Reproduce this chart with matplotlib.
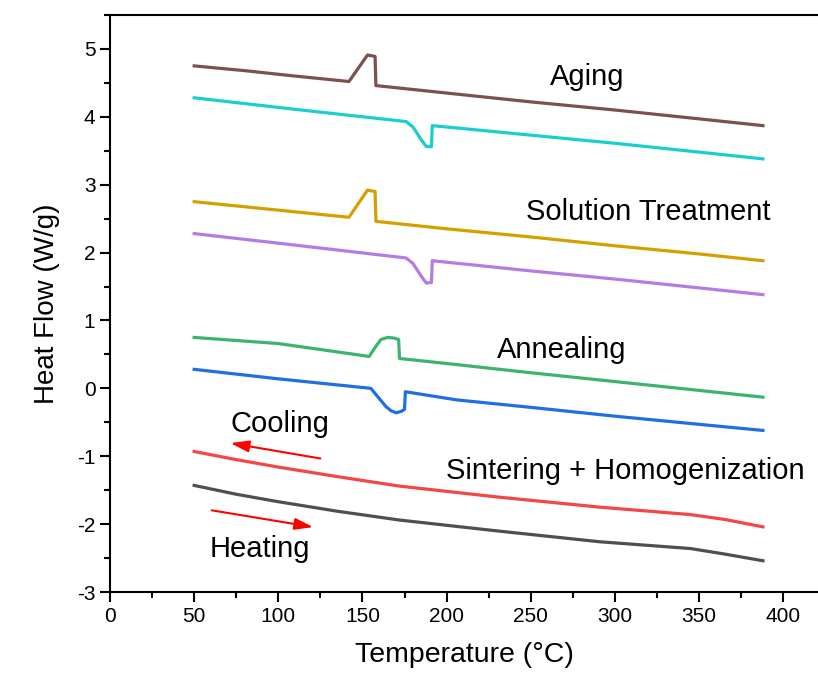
import matplotlib
matplotlib.use('Agg')
import matplotlib.pyplot as plt
from matplotlib.ticker import MultipleLocator

plt.rcParams['font.family'] = ['Liberation Sans', 'DejaVu Sans']
plt.rcParams['axes.unicode_minus'] = False

# Aging
t_aging_c = [50, 80, 110, 142, 153, 157.5, 158, 200, 250, 300, 350, 388]
hf_aging_c = [4.75, 4.68, 4.60, 4.52, 4.91, 4.89, 4.46, 4.35, 4.22, 4.10, 3.97, 3.87]
t_aging_h = [50, 110, 176, 180, 185, 188, 191, 191.5, 250, 300, 350, 388]
hf_aging_h = [4.28, 4.11, 3.93, 3.85, 3.66, 3.56, 3.56, 3.87, 3.73, 3.61, 3.48, 3.38]

# Solution treatment
t_sol_c = [50, 110, 142, 153, 157.5, 158, 200, 250, 300, 350, 388]
hf_sol_c = [2.75, 2.60, 2.52, 2.92, 2.90, 2.46, 2.35, 2.23, 2.10, 1.98, 1.88]
t_sol_h = [50, 110, 176, 180, 185, 188, 191, 191.5, 250, 300, 350, 388]
hf_sol_h = [2.28, 2.11, 1.92, 1.84, 1.65, 1.55, 1.56, 1.88, 1.73, 1.61, 1.48, 1.38]

# Annealing
t_ann_c = [50, 100, 154, 158, 161, 165, 169, 171.5, 172, 206, 250, 300, 350, 388]
hf_ann_c = [0.75, 0.66, 0.47, 0.62, 0.72, 0.75, 0.74, 0.72, 0.44, 0.35, 0.23, 0.10, -0.03, -0.13]
t_ann_h = [50, 100, 155, 160, 164, 167, 170, 173, 175, 175.5, 206, 250, 300, 350, 388]
hf_ann_h = [0.28, 0.14, 0.00, -0.15, -0.27, -0.33, -0.36, -0.34, -0.31, -0.05, -0.17, -0.28, -0.41, -0.53, -0.62]

# Sintering + Homogenization
t_sin = [50, 75, 100, 135, 172, 230, 291, 345, 365, 388]
hf_sin_c = [-0.93, -1.05, -1.16, -1.30, -1.44, -1.60, -1.75, -1.86, -1.93, -2.04]
hf_sin_h = [-1.43, -1.56, -1.67, -1.81, -1.94, -2.10, -2.26, -2.36, -2.44, -2.54]

fig = plt.figure(figsize=(8.18, 6.84), dpi=100)
ax = fig.add_axes([0.1345, 0.1345, 0.8655, 0.8436])

lw = 2.3
ax.plot(t_aging_c, hf_aging_c, color='#7d5050', lw=lw)
ax.plot(t_aging_h, hf_aging_h, color='#1ccdcd', lw=lw)
ax.plot(t_sol_c, hf_sol_c, color='#d4a000', lw=lw)
ax.plot(t_sol_h, hf_sol_h, color='#b57be3', lw=lw)
ax.plot(t_ann_c, hf_ann_c, color='#3cb36e', lw=lw)
ax.plot(t_ann_h, hf_ann_h, color='#1f6fe3', lw=lw)
ax.plot(t_sin, hf_sin_c, color='#f54545', lw=lw)
ax.plot(t_sin, hf_sin_h, color='#4f4f4f', lw=lw)

arrow = dict(arrowstyle='-|>,head_length=0.8,head_width=0.25', color='red', lw=1.5, mutation_scale=14)
ax.annotate('', xy=(69.9, -0.80), xytext=(126.6, -1.04), arrowprops=arrow)
ax.annotate('', xy=(122.4, -2.05), xytext=(58.8, -1.79), arrowprops=arrow)

fs = 21
ax.text(283.4, 4.466, 'Aging', fontsize=fs, ha='center', va='baseline')
ax.text(319.7, 2.48, 'Solution Treatment', fontsize=fs, ha='center', va='baseline')
ax.text(268.6, 0.44, 'Annealing', fontsize=fs, ha='center', va='baseline')
ax.text(101, -0.64, 'Cooling', fontsize=fs, ha='center', va='baseline')
ax.text(89, -2.48, 'Heating', fontsize=fs, ha='center', va='baseline')
ax.text(199.5, -1.34, 'Sintering + Homogenization', fontsize=fs, ha='left', va='baseline')

ax.set_xlim(0, 420.7)
ax.set_ylim(-3, 5.5)
ax.xaxis.set_major_locator(MultipleLocator(50))
ax.xaxis.set_minor_locator(MultipleLocator(25))
ax.yaxis.set_major_locator(MultipleLocator(1))
ax.yaxis.set_minor_locator(MultipleLocator(0.5))
ax.spines['right'].set_visible(False)
for s in ['left', 'bottom', 'top']:
    ax.spines[s].set_linewidth(1.5)
ax.tick_params(which='major', direction='out', length=7, width=1.5, labelsize=15)
ax.tick_params(which='minor', direction='out', length=4, width=1.5)

ax.set_xlabel('Temperature (\u00b0C)', fontsize=20.5, labelpad=12)
ax.set_ylabel('Heat Flow (W/g)', fontsize=20, labelpad=12)

fig.savefig('out.png', dpi=100)
